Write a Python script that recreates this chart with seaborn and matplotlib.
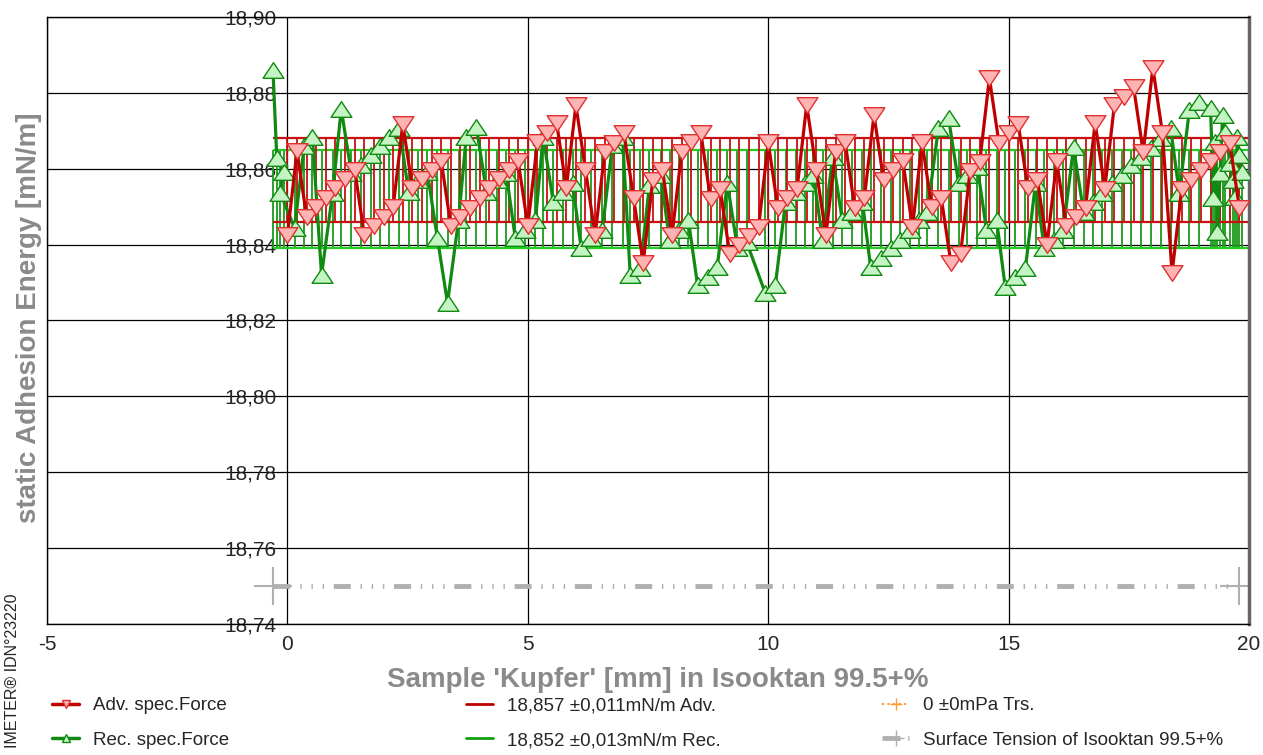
import numpy as np
import seaborn as sns
import matplotlib.pyplot as plt
from matplotlib.path import Path
from matplotlib.lines import Line2D

# sample positions [mm] and static adhesion energy [mN/m]
adv_x = [0.0, 0.2, 0.4, 0.6, 0.8, 1.0, 1.2, 1.4, 1.6, 1.8,
         2.0, 2.2, 2.4, 2.6, 2.8, 3.0, 3.2, 3.4, 3.6, 3.8,
         4.0, 4.2, 4.4, 4.6, 4.8, 5.0, 5.2, 5.4, 5.6, 5.8,
         6.0, 6.2, 6.4, 6.6, 6.8, 7.0, 7.2, 7.4, 7.6, 7.8,
         8.0, 8.2, 8.4, 8.6, 8.8, 9.0, 9.2, 9.4, 9.6, 9.8,
         10.0, 10.2, 10.4, 10.6, 10.8, 11.0, 11.2, 11.4, 11.6, 11.8,
         12.0, 12.2, 12.4, 12.6, 12.8, 13.0, 13.2, 13.4, 13.6, 13.8,
         14.0, 14.2, 14.4, 14.6, 14.8, 15.0, 15.2, 15.4, 15.6, 15.8,
         16.0, 16.2, 16.4, 16.6, 16.8, 17.0, 17.2, 17.4, 17.6, 17.8,
         18.0, 18.2, 18.4, 18.6, 18.8, 19.0, 19.2, 19.4, 19.6, 19.8]
adv_y = [18.8425, 18.8647, 18.8473, 18.8499, 18.8523, 18.8549, 18.8573, 18.8597, 18.8425, 18.8449,
         18.8473, 18.8499, 18.8718, 18.8549, 18.8573, 18.8597, 18.8620, 18.8449, 18.8473, 18.8497,
         18.8523, 18.8549, 18.8573, 18.8597, 18.8620, 18.8449, 18.8670, 18.8694, 18.8721, 18.8549,
         18.8768, 18.8597, 18.8425, 18.8644, 18.8668, 18.8694, 18.8523, 18.8352, 18.8570, 18.8597,
         18.8425, 18.8644, 18.8670, 18.8694, 18.8520, 18.8547, 18.8375, 18.8399, 18.8423, 18.8446,
         18.8670, 18.8497, 18.8523, 18.8547, 18.8768, 18.8597, 18.8425, 18.8644, 18.8670, 18.8497,
         18.8523, 18.8742, 18.8570, 18.8597, 18.8620, 18.8446, 18.8670, 18.8499, 18.8523, 18.8352,
         18.8375, 18.8594, 18.8618, 18.8839, 18.8668, 18.8694, 18.8718, 18.8549, 18.8570, 18.8399,
         18.8620, 18.8449, 18.8473, 18.8497, 18.8721, 18.8547, 18.8768, 18.8789, 18.8815, 18.8644,
         18.8866, 18.8694, 18.8325, 18.8547, 18.8570, 18.8597, 18.8620, 18.8644, 18.8668, 18.8497]

rec_x = [-0.30, -0.22, -0.08, -0.15, 0.15, 0.35, 0.52, 0.71, 0.94, 1.12,
         1.33, 1.54, 1.73, 1.93, 2.12, 2.33, 2.52, 2.72, 2.91, 3.12,
         3.33, 3.56, 3.72, 3.93, 4.14, 4.35, 4.55, 4.74, 4.95, 5.16,
         5.32, 5.53, 5.74, 5.93, 6.11, 6.32, 6.55, 6.76, 6.97, 7.13,
         7.34, 7.53, 7.76, 7.95, 8.15, 8.34, 8.53, 8.74, 8.94, 9.15,
         9.36, 9.55, 9.94, 10.15, 10.36, 10.57, 10.77, 10.94, 11.13, 11.34,
         11.54, 11.75, 11.96, 12.13, 12.35, 12.56, 12.75, 12.94, 13.14, 13.31,
         13.54, 13.75, 13.96, 14.14, 14.35, 14.54, 14.75, 14.93, 15.14, 15.35,
         15.56, 15.74, 15.95, 16.14, 16.35, 16.56, 16.76, 16.95, 17.16, 17.35,
         17.55, 17.76, 17.97, 18.16, 18.37, 18.55, 18.76, 18.97, 19.20, 19.26,
         19.30, 19.34, 19.40, 19.45, 19.51, 19.60, 19.66, 19.70, 19.76, 19.80, 19.86]
rec_y = [18.8860, 18.8628, 18.8591, 18.8536, 18.8444, 18.8660, 18.8684, 18.8320, 18.8536, 18.8757,
         18.8589, 18.8610, 18.8636, 18.8660, 18.8684, 18.8707, 18.8539, 18.8570, 18.8591, 18.8417,
         18.8246, 18.8465, 18.8684, 18.8710, 18.8539, 18.8570, 18.8589, 18.8417, 18.8439, 18.8465,
         18.8684, 18.8512, 18.8539, 18.8562, 18.8391, 18.8417, 18.8439, 18.8663, 18.8684, 18.8320,
         18.8338, 18.8557, 18.8584, 18.8412, 18.8439, 18.8465, 18.8294, 18.8315, 18.8341, 18.8562,
         18.8391, 18.8407, 18.8272, 18.8294, 18.8512, 18.8539, 18.8562, 18.8584, 18.8412, 18.8631,
         18.8465, 18.8486, 18.8512, 18.8341, 18.8365, 18.8391, 18.8412, 18.8439, 18.8465, 18.8486,
         18.8707, 18.8734, 18.8562, 18.8584, 18.8605, 18.8439, 18.8465, 18.8288, 18.8315, 18.8338,
         18.8562, 18.8391, 18.8412, 18.8439, 18.8657, 18.8486, 18.8512, 18.8536, 18.8562, 18.8584,
         18.8610, 18.8631, 18.8655, 18.8681, 18.8707, 18.8536, 18.8755, 18.8776, 18.8760, 18.8523,
         18.8670, 18.8433, 18.8589, 18.8742, 18.8697, 18.8615, 18.8570, 18.8526, 18.8684, 18.8636, 18.8591]

# mean +- std from the instrument
adv_mean, adv_sd = 18.857, 0.011
rec_mean, rec_sd = 18.852, 0.013

# surface tension reference line
st_x = [-0.3, 19.8]
st_y = [18.75, 18.75]

y_ticks = [18.74, 18.76, 18.78, 18.80, 18.82, 18.84, 18.86, 18.88, 18.90]
y_tick_labels = ["18,74", "18,76", "18,78", "18,80", "18,82", "18,84", "18,86", "18,88", "18,90"]
x_ticks = [-5, 0, 5, 10, 15, 20]

sns.set_style("white")
plt.rcParams["font.family"] = ["Liberation Sans", "DejaVu Sans"]
plt.rcParams["axes.unicode_minus"] = False

RED, RED_FILL = "#c00000", "#ffb4b4"
GREEN, GREEN_FILL = "#108a10", "#c4f4c4"
GRAY = "#b0b0b0"

tri_down = Path([(-1, 0.75), (1, 0.75), (0, -0.75), (-1, 0.75)],
                [Path.MOVETO, Path.LINETO, Path.LINETO, Path.CLOSEPOLY])
tri_up = Path([(-1, -0.75), (1, -0.75), (0, 0.75), (-1, -0.75)],
              [Path.MOVETO, Path.LINETO, Path.LINETO, Path.CLOSEPOLY])

fig = plt.figure(figsize=(12.63, 7.55), dpi=100)
ax = fig.add_axes([47 / 1263, 1 - 624 / 755, 1202 / 1263, 607 / 755])

ax.set_xlim(-5, 20)
ax.set_ylim(18.74, 18.90)
ax.set_xticks(x_ticks)
ax.set_yticks(y_ticks)
ax.set_yticklabels(y_tick_labels)
ax.grid(True, color="black", lw=0.9)
ax.set_axisbelow(True)

# std bands (comb)
ax.vlines(rec_x, rec_mean - rec_sd, rec_mean + rec_sd, color="#1a9a1a", lw=1.3, zorder=2)
ax.hlines([rec_mean - rec_sd, rec_mean + rec_sd], -0.3, 20, color="#22cc22", lw=1.6, zorder=2)
ax.vlines(adv_x, adv_mean - adv_sd, adv_mean + adv_sd, color="#c81010", lw=1.3, zorder=2)
ax.hlines([adv_mean - adv_sd, adv_mean + adv_sd], -0.3, 20, color="#c81010", lw=1.6, zorder=2)

# surface tension
ax.plot(st_x, st_y, color=GRAY, lw=3.5, linestyle=(0, (3.5, 2, 0.3, 2, 0.3, 2, 0.3, 2)),
        zorder=2)
ax.plot(st_x, st_y, color=GRAY, lw=0, marker="+", ms=27, mew=1.5, zorder=2)

sns.lineplot(x=rec_x, y=rec_y, sort=False, estimator=None, ax=ax, color=GREEN, lw=2.3,
             marker=tri_up, ms=15, mfc=GREEN_FILL, mec=GREEN, mew=1.0, zorder=3)
sns.lineplot(x=adv_x, y=adv_y, sort=False, estimator=None, ax=ax, color=RED, lw=2.3,
             marker=tri_down, ms=15, mfc=RED_FILL, mec="#e03030", mew=1.0, zorder=4)

for side in ["left", "top", "bottom"]:
    ax.spines[side].set_color("black")
    ax.spines[side].set_linewidth(1.0)
ax.spines["right"].set_color("#666666")
ax.spines["right"].set_linewidth(2.5)

ax.tick_params(axis="y", length=0, pad=-165, labelsize=15)
ax.tick_params(axis="x", length=4, width=1, color="black", pad=4, labelsize=15)

ax.set_xlabel("Sample 'Kupfer' [mm] in Isooktan 99.5+%", fontsize=20, fontweight="bold",
              color="#8a8a8a")
ax.xaxis.set_label_coords(0.508, -0.071)
ax.set_ylabel("static Adhesion Energy [mN/m]", fontsize=20, fontweight="bold", color="#8a8a8a")
ax.yaxis.set_label_coords(-0.004, 0.504)

fig.text(12 / 1263, 1 - 593 / 755, "IMETER® IDN°23220", rotation=90, ha="center", va="top",
         fontsize=11.5)

leg_kw = dict(frameon=False, borderpad=0, borderaxespad=0, handlelength=1.45,
              handletextpad=0.75, labelspacing=0.95, fontsize=13.5, loc="center left")

h1 = [Line2D([], [], color=RED, lw=2.5, marker="v", ms=6, mfc=RED_FILL, mec="#e03030"),
      Line2D([], [], color=GREEN, lw=2.5, marker="^", ms=6, mfc=GREEN_FILL, mec=GREEN)]
fig.legend(h1, ["Adv. spec.Force", "Rec. spec.Force"],
           bbox_to_anchor=(52 / 1263, 1 - 723 / 755), **leg_kw)

h2 = [Line2D([], [], color=RED, lw=2), Line2D([], [], color="#10a010", lw=2)]
fig.legend(h2, ["18,857 ±0,011mN/m Adv.", "18,852 ±0,013mN/m Rec."],
           bbox_to_anchor=(466 / 1263, 1 - 723 / 755), **leg_kw)

h3 = [Line2D([], [], color="#ff9a30", lw=1.5, linestyle=":", marker="+", ms=9),
      Line2D([], [], color=GRAY, lw=3.5, linestyle="--", marker="+", ms=12)]
fig.legend(h3, ["0 ±0mPa Trs.", "Surface Tension of Isooktan 99.5+%"],
           bbox_to_anchor=(882 / 1263, 1 - 723 / 755), **leg_kw)

fig.savefig("out.png", dpi=100)
